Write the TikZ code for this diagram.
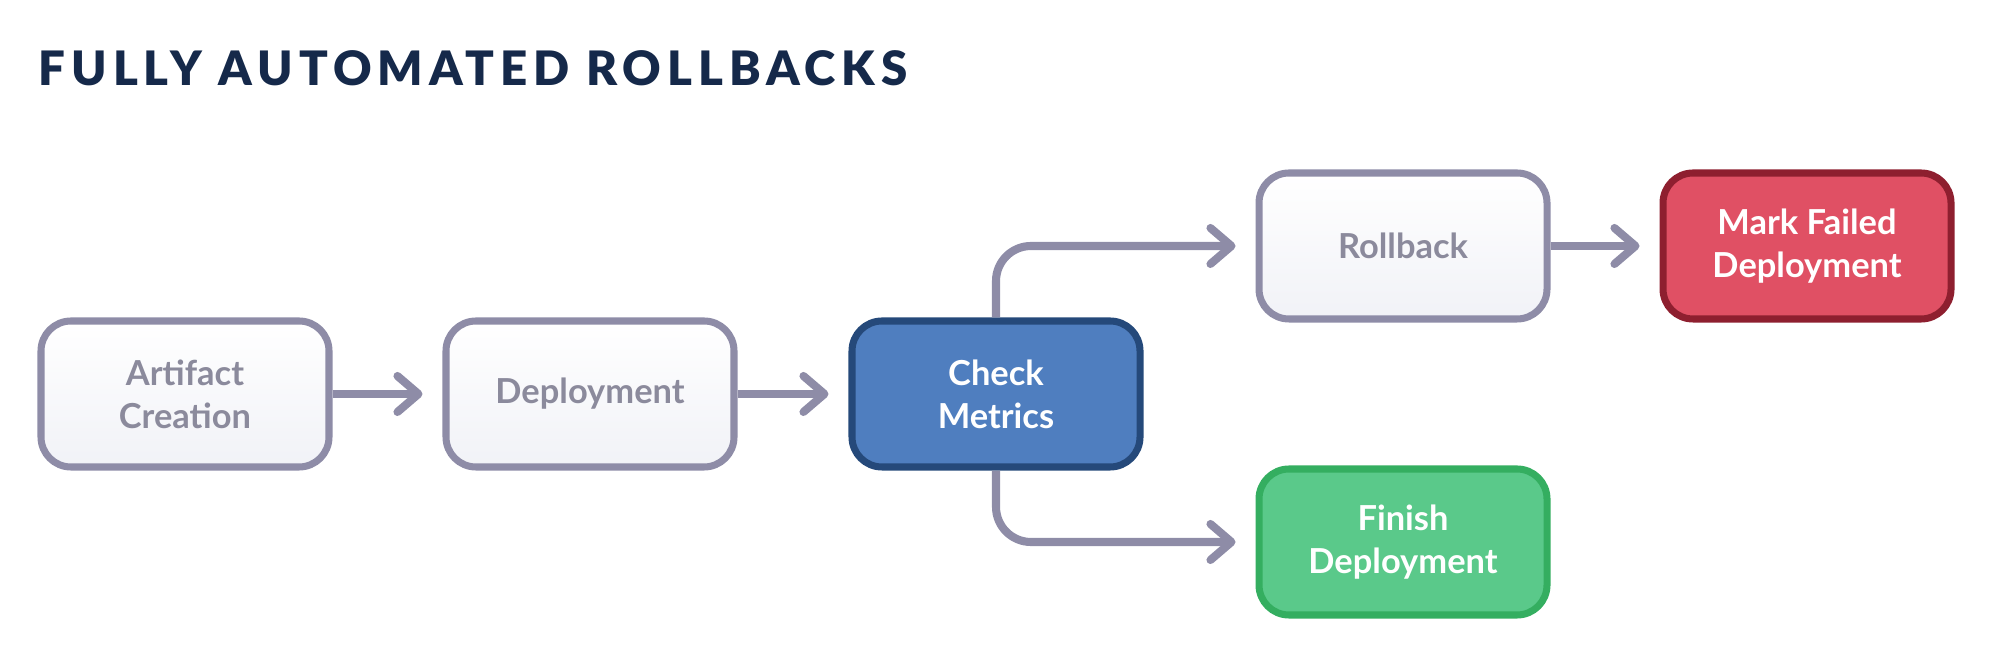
\documentclass[tikz,border=0pt]{standalone}
\usepackage{fontspec}
\setmainfont{Lato}
\newfontfamily\titlefont{Lato Black}[LetterSpace=12.5]
\usetikzlibrary{arrows.meta}
\definecolor{linegray}{HTML}{8E8CA7}
\definecolor{textgray}{HTML}{8B8A9C}
\definecolor{boxbottom}{HTML}{F1F2F7}
\definecolor{titleblue}{HTML}{15294A}
\definecolor{checkfill}{HTML}{4F7EBF}
\definecolor{checkdraw}{HTML}{25497A}
\definecolor{failfill}{HTML}{E05064}
\definecolor{faildraw}{HTML}{8E1F2F}
\definecolor{finishfill}{HTML}{5AC98A}
\definecolor{finishdraw}{HTML}{34AE60}

\begin{document}
\begin{tikzpicture}[
	box/.style={rounded corners=0.3cm, minimum width=2.88cm, minimum height=1.46cm, line width=2pt, align=center, font=\bfseries\fontsize{9.8}{12.3}\selectfont},
	plainbox/.style={box, draw=linegray, top color=white, bottom color=boxbottom, text=textgray},
	arr/.style={line width=2.3pt, draw=linegray, -{Straight Barb[length=2.1mm, width=3.6mm, round]}, shorten >=0.2cm}]
	\useasboundingbox (0,0) rectangle (19.98,-6.68);

	\node[anchor=base west, inner sep=0pt, text=titleblue, font=\titlefont\fontsize{13.5}{16}\selectfont] (title) at (0.38,-0.86) {FULLY AUTOMATED ROLLBACKS};

	\node[plainbox] (artifact) at (1.85,-3.94) {Artifact\\Creation};
	\node[plainbox] (deploy) at (5.90,-3.94) {Deployment};
	\node[box, draw=checkdraw, fill=checkfill, text=white] (check) at (9.96,-3.94) {Check\\Metrics};
	\node[plainbox] (rollback) at (14.03,-2.46) {Rollback};
	\node[box, draw=faildraw, fill=failfill, text=white] (markfail) at (18.07,-2.46) {Mark Failed\\Deployment};
	\node[box, draw=finishdraw, fill=finishfill, text=white] (finish) at (14.03,-5.42) {Finish\\Deployment};

	\draw[arr] (artifact) -- (deploy);
	\draw[arr] (deploy) -- (check);
	\draw[arr, rounded corners=0.35cm] (check.north) |- (rollback.west);
	\draw[arr, rounded corners=0.35cm] (check.south) |- (finish.west);
	\draw[arr] (rollback) -- (markfail);
\end{tikzpicture}
\end{document}
